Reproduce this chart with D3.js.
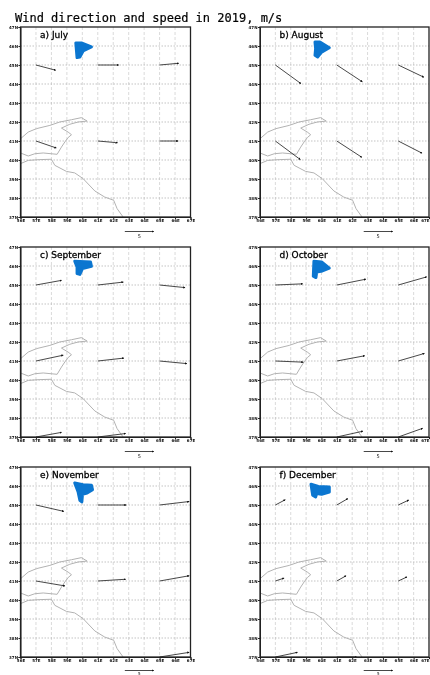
<!DOCTYPE html>
<html>
<head>
<meta charset="utf-8">
<script src="https://cdn.jsdelivr.net/npm/d3@7"></script>
<style>
  html, body { margin: 0; padding: 0; background: #fff; overflow: hidden; }
  svg { display: block; filter: blur(0.55px); }
  .domain { stroke: #222; }
  .tick text { font-family: "DejaVu Sans", sans-serif; font-size: 4px; font-weight: bold; fill: #111; }
  .tick line { stroke: #222; }
</style>
</head>
<body>
<div id="chart"></div>
<script>
// values (tick labels are barely legible, best guess)
const panelTitles = ["a) July", "b) August", "c) September", "d) October", "e) November", "f) December"];
const lonTicks = [56, 57, 58, 59, 60, 61, 62, 63, 64, 65, 66, 67];
const latTicks = [47, 46, 45, 44, 43, 42, 41, 40, 39, 38, 37];

// wind stations
const stationLons = [57, 61, 65];
const stationLats = [45, 41, 37];

// m/s, one row per station latitude, null = nothing drawn
const uJuly = [[3.4, 3.6, 3.3], [3.5, 3.4, 3.2], [null, null, null]];
const vJuly = [[-0.9, 0, 0.3], [-1.2, -0.3, 0], [null, null, null]];
const uAugust = [[4.4, 4.4, 4.4], [4.3, 4.3, 4.1], [null, null, null]];
const vAugust = [[-3.2, -2.9, -2.1], [-3.2, -2.8, -2.1], [null, null, null]];
const uSeptember = [[4.4, 4.4, 4.4], [4.7, 4.5, 4.7], [4.4, 4.8, null]];
const vSeptember = [[0.8, 0.5, -0.45], [1, 0.5, -0.45], [0.8, 0.6, null]];
const uOctober = [[4.7, 5, 4.9], [4.8, 4.8, 4.5], [null, 4.5, 4.2]];
const vOctober = [[0.2, 1, 1.4], [-0.2, 0.9, 1.3], [null, 1, 1.5]];
const uNovember = [[4.8, 4.9, 5.1], [5, 4.8, 5.1], [null, null, 5.1]];
const vNovember = [[-1.1, 0, 0.6], [-0.85, 0.3, 0.9], [null, null, 0.8]];
const uDecember = [[1.7, 1.9, 1.8], [1.5, 1.6, 1.5], [3.8, 3.4, null]];
const vDecember = [[0.9, 1.1, 0.85], [0.5, 0.9, 0.7], [0.8, 0, null]];
const uMonths = [uJuly, uAugust, uSeptember, uOctober, uNovember, uDecember];
const vMonths = [vJuly, vAugust, vSeptember, vOctober, vNovember, vDecember];

const refSpeed = 5;

// border lines, lon/lat
const borderNorth = [[56,41.12],[56.5,41.47],[57.03,41.65],[57.9,41.82],[58.54,42],[59.3,42.12],[59.94,42.23],[60.31,42.05],[59.73,42],[59.19,41.88],[58.65,41.68],[59.08,41.47],[59.3,41.33],[59.08,41.18],[58.87,40.95],[58.65,40.68],[58.37,40.3],[57.47,40.37],[56.93,40.33],[56.5,40.21],[56,40.37]];
const borderSouth = [[56,39.81],[56.5,39.98],[57.25,40.02],[58,40.04],[58.22,39.72],[58.97,39.4],[59.51,39.32],[60.05,39.02],[60.81,38.37],[61.45,38.05],[62.03,37.88],[62.25,37.44],[62.64,37]];

// the lake changes shape from month to month
const lakeJuly = [[59.58,46.16],[59.94,46.16],[60.59,45.95],[60.05,45.74],[59.84,45.42],[59.66,45.39],[59.62,45.77]];
const lakeAugust = [[59.58,46.21],[59.9,46.21],[60.51,45.91],[60.01,45.68],[59.75,45.42],[59.58,45.51],[59.62,45.86]];
const lakeSeptember = [[59.51,46.25],[60.53,46.21],[60.59,45.98],[60.01,45.86],[59.84,45.56],[59.66,45.6],[59.66,45.95]];
const lakeOctober = [[59.51,46.25],[60.01,46.21],[60.51,45.89],[60.06,45.74],[59.69,45.68],[59.64,45.39],[59.47,45.46]];
const lakeNovember = [[59.51,46.16],[60.05,46.07],[60.59,46.04],[60.66,45.81],[60.31,45.63],[60.01,45.56],[59.97,45.16],[59.84,45.25],[59.73,45.68]];
const lakeDecember = [[59.32,46.09],[59.8,45.98],[60.51,45.95],[60.51,45.68],[60.01,45.56],[59.69,45.6],[59.62,45.42],[59.43,45.51]];
const lakes = [lakeJuly, lakeAugust, lakeSeptember, lakeOctober, lakeNovember, lakeDecember];

const svg = d3.select("#chart").append("svg").attr("width", 430).attr("height", 675);

svg.append("defs").append("marker")
    .attr("id", "head")
    .attr("viewBox", "0 0 6 6")
    .attr("refX", 5).attr("refY", 3)
    .attr("markerWidth", 2.6).attr("markerHeight", 2.6)
    .attr("orient", "auto")
  .append("path")
    .attr("d", "M0,0L6,3L0,6Z")
    .attr("fill", "#111");

svg.append("text")
    .attr("x", 15).attr("y", 22)
    .style("font-family", "'DejaVu Sans Mono', monospace")
    .style("font-size", "12px")
    .style("fill", "#000")
    .style("stroke", "#000").style("stroke-width", 0.2)
    .text("Wind direction and speed in 2019, m/s");

const colLeft = [20.5, 260];
const rowTop = [27, 247, 467];
const panelW = [170, 169];
const panelH = 190;

const speedLen = d3.scaleLinear().domain([0, refSpeed]).range([0, 29]);

panelTitles.forEach((title, i) => {
    const col = i % 2, row = Math.floor(i / 2);
    const w = panelW[col];
    const g = svg.append("g").attr("transform", "translate(" + colLeft[col] + "," + rowTop[row] + ")");

    const x = d3.scaleLinear().domain([56, 67]).range([0, w]);
    const y = d3.scaleLinear().domain([47, 37]).range([0, panelH]);

    // dotted grid
    g.selectAll(".gx").data(lonTicks.slice(1, -1)).enter().append("line")
        .attr("x1", d => x(d)).attr("x2", d => x(d))
        .attr("y1", 0).attr("y2", panelH)
        .attr("stroke", "#d6d6d6").attr("stroke-width", 0.9).attr("stroke-dasharray", "3,2");
    g.selectAll(".gy").data(latTicks.slice(1, -1)).enter().append("line")
        .attr("x1", 0).attr("x2", w)
        .attr("y1", d => y(d)).attr("y2", d => y(d))
        .attr("stroke", "#b4b4b4").attr("stroke-width", 0.8).attr("stroke-dasharray", "1.5,1.5");

    const line = d3.line().x(d => x(d[0])).y(d => y(d[1]));

    [borderNorth, borderSouth].forEach(b => {
        g.append("path").attr("d", line(b))
            .attr("fill", "none").attr("stroke", "#b2b2b2").attr("stroke-width", 1);
    });

    g.append("path").attr("d", line(lakes[i]) + "Z")
        .attr("fill", "#0b76d0").attr("stroke", "#0b76d0")
        .attr("stroke-width", 3).attr("stroke-linejoin", "round");

    // wind arrows start on the station and scale with the speed
    stationLats.forEach((lat, r) => {
        stationLons.forEach((lon, c) => {
            const u = uMonths[i][r][c], v = vMonths[i][r][c];
            if (u === null) return;
            g.append("line")
                .attr("x1", x(lon)).attr("y1", y(lat))
                .attr("x2", x(lon) + speedLen(u)).attr("y2", y(lat) - speedLen(v))
                .attr("stroke", "#333").attr("stroke-width", 0.9)
                .attr("marker-end", "url(#head)");
        });
    });

    const xAxis = g.append("g").attr("transform", "translate(0," + panelH + ")")
        .call(d3.axisBottom(x).tickValues(lonTicks).tickSize(2).tickPadding(0.5).tickFormat(d => d + "E"));
    // the last label of the right column has no room past the window edge
    if (col === 1) xAxis.selectAll(".tick").filter(d => d === 67).select("text").attr("text-anchor", "end");
    g.append("g")
        .call(d3.axisLeft(y).tickValues(latTicks).tickSize(2).tickPadding(0.5).tickFormat(d => d + "N"));

    g.append("rect").attr("width", w).attr("height", panelH)
        .attr("fill", "none").attr("stroke", "#222").attr("stroke-width", 1.3);

    g.append("text")
        .attr("x", 19.5).attr("y", 10.5)
        .style("font-family", "'DejaVu Sans', sans-serif")
        .style("font-size", "9px")
        .style("fill", "#000").style("stroke", "#000").style("stroke-width", 0.3)
        .text(title);

    // reference vector under the panel, bottom row squeezed against the window edge
    const refX = x(62.75), refY = panelH + (row === 2 ? 13.5 : 14.5);
    g.append("line")
        .attr("x1", refX).attr("y1", refY)
        .attr("x2", refX + speedLen(refSpeed)).attr("y2", refY)
        .attr("stroke", "#333").attr("stroke-width", 0.9)
        .attr("marker-end", "url(#head)");
    g.append("text")
        .attr("x", refX + speedLen(refSpeed) / 2).attr("y", refY + (row === 2 ? 4 : 6))
        .attr("text-anchor", "middle")
        .style("font-family", "'DejaVu Sans', sans-serif")
        .style("font-size", row === 2 ? "4px" : "5px")
        .style("fill", "#111")
        .text(refSpeed);
});
</script>
</body>
</html>
